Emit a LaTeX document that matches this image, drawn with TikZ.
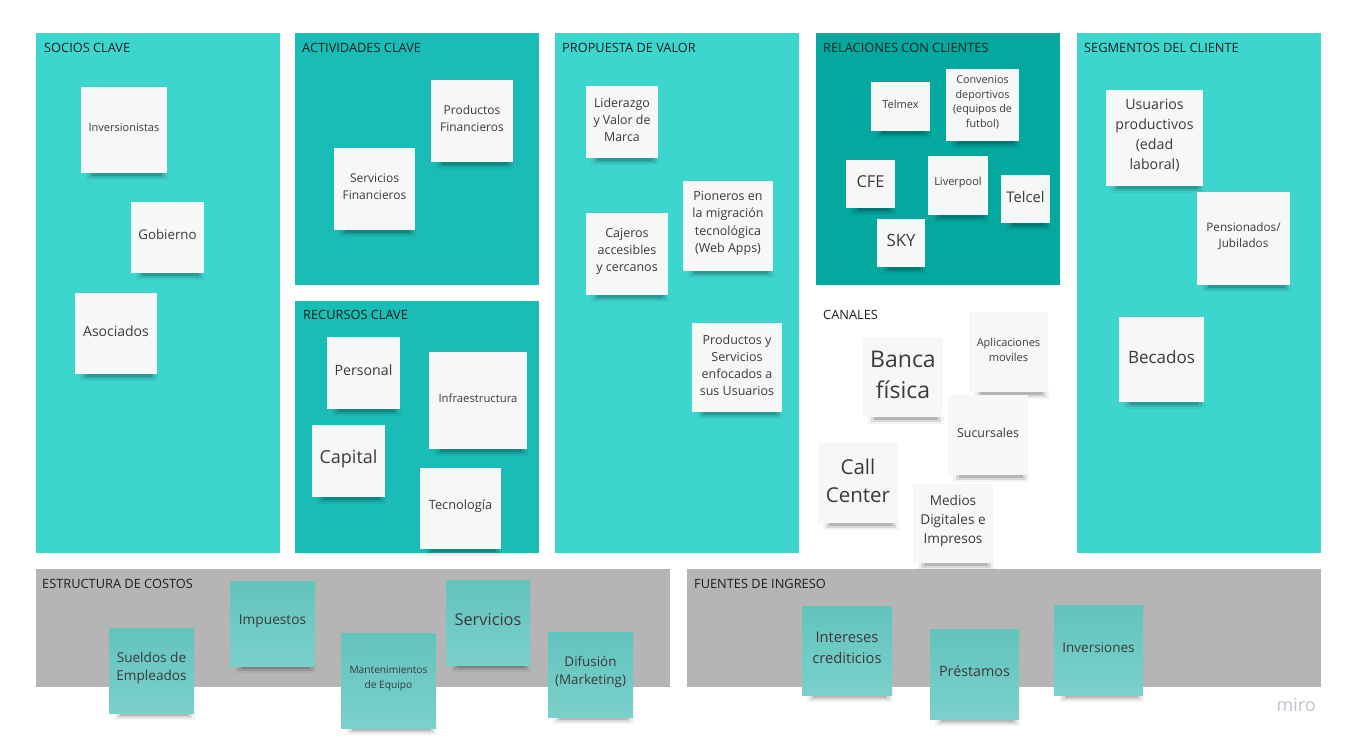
\documentclass[tikz,border=0pt]{standalone}
\usepackage{fontspec}
\setmainfont{Open Sans}
\definecolor{lightteal}{HTML}{3DD6CF}
\definecolor{midteal}{HTML}{1ABDB5}
\definecolor{darkteal}{HTML}{03A89F}
\definecolor{panelgray}{HTML}{B5B5B5}
\definecolor{notewhite}{HTML}{F6F8F8}
\definecolor{noteteallight}{HTML}{7BD0CB}
\definecolor{noteteadark}{HTML}{63C3BD}
\definecolor{txt}{HTML}{3A3A3A}
\definecolor{hdrtxt}{HTML}{1E1E1E}
\definecolor{mirogray}{HTML}{C2C2CE}
\tikzset{
  hdr/.style={anchor=base west, inner sep=0pt, text=hdrtxt, font={\fontsize{12.8}{15}\selectfont}},
  wst/.style={fill=notewhite, inner sep=0pt},
  tst/.style={top color=noteteadark, bottom color=noteteallight, inner sep=0pt},
  notetext/.style={text=txt, align=center, inner sep=0pt},
}
% name, x1, y1, x2, y2, size, leading, text, style
\newcommand\stk[9]{%
  \fill[black,opacity=.05] ({#2+5},{#5-2}) rectangle ({#4+1},{#5+7});
  \fill[black,opacity=.10] ({#2+8},{#5-2}) rectangle ({#4-2},{#5+5});
  \fill[black,opacity=.16] ({#2+11},{#5-1}) rectangle ({#4-5},{#5+3});
  \node[#9, minimum width={#4-#2}, minimum height={#5-#3}] (#1) at ({(#2+#4)/2},{(#3+#5)/2}) {};
  \node[notetext, font={\fontsize{#6}{#7}\selectfont}] (#1t) at ({(#2+#4)/2},{(#3+#5)/2-2.5}) {#8};
}
\begin{document}
\begin{tikzpicture}[x=1pt,y=-1pt]
\useasboundingbox (0,0) rectangle (1345,743);
\fill[white] (0,0) rectangle (1345,743);
% panels
\fill[lightteal] (36,33) rectangle (280,553);
\fill[midteal] (295,33) rectangle (539,285);
\fill[midteal] (295,301) rectangle (539,553);
\fill[lightteal] (555,33) rectangle (799,553);
\fill[darkteal] (816,33) rectangle (1060,285);
\fill[lightteal] (1077,33) rectangle (1321,553);
\fill[panelgray] (36,569) rectangle (670,687);
\fill[panelgray] (687,569) rectangle (1321,687);
% headers
\node[hdr] (hsoc) at (44,53) {SOCIOS CLAVE};
\node[hdr] (hact) at (302,53) {ACTIVIDADES CLAVE};
\node[hdr] (hrec) at (303,320) {RECURSOS CLAVE};
\node[hdr] (hpro) at (562,53) {PROPUESTA DE VALOR};
\node[hdr] (hrel) at (823,53) {RELACIONES CON CLIENTES};
\node[hdr] (hcan) at (823,320) {CANALES};
\node[hdr] (hseg) at (1084,53) {SEGMENTOS DEL CLIENTE};
\node[hdr] (hcos) at (42,588) {ESTRUCTURA DE COSTOS};
\node[hdr] (hfue) at (694,588) {FUENTES DE INGRESO};
% socios
\stk{inv}{81}{87}{167}{173}{11}{15}{Inversionistas}{wst}
\stk{gob}{131}{202}{204}{273}{13.3}{18}{Gobierno}{wst}
\stk{aso}{75}{293}{157}{374}{14}{19}{Asociados}{wst}
% actividades
\stk{prodfin}{431}{80}{513}{162}{12}{17}{Productos\\Financieros}{wst}
\stk{servfin}{334}{148}{415}{230}{12}{17}{Servicios\\Financieros}{wst}
% recursos
\stk{pers}{327}{337}{400}{409}{14.2}{19}{Personal}{wst}
\stk{infra}{429}{352}{527}{449}{11.3}{15}{Infraestructura}{wst}
\stk{cap}{312}{425}{385}{497}{18}{24}{Capital}{wst}
\stk{tec}{420}{468}{501}{549}{12.8}{17}{Tecnología}{wst}
% propuesta
\stk{lid}{586}{86}{658}{158}{12.4}{17}{Liderazgo\\y Valor de\\Marca}{wst}
\stk{caj}{586}{213}{668}{295}{12.5}{17}{Cajeros\\accesibles\\y cercanos}{wst}
\stk{pio}{683}{181}{773}{271}{12.5}{17.5}{Pioneros en\\la migración\\tecnológica\\(Web Apps)}{wst}
\stk{pys}{692}{323}{782}{412}{12.5}{17}{Productos y\\Servicios\\enfocados a\\sus Usuarios}{wst}
% relaciones
\stk{telmex}{871}{82}{930}{131}{11}{15}{Telmex}{wst}
\stk{conv}{946}{69}{1019}{141}{10.8}{14.7}{Convenios\\deportivos\\(equipos de\\futbol)}{wst}
\stk{cfe}{846}{160}{895}{208}{16.4}{20}{CFE}{wst}
\stk{liv}{928}{156}{988}{215}{11}{15}{Liverpool}{wst}
\stk{telcel}{1001}{175}{1050}{223}{14.7}{19}{Telcel}{wst}
\stk{sky}{877}{219}{925}{267}{16.8}{20}{SKY}{wst}
% canales
\stk{banca}{863}{337}{943}{417}{23}{31}{Banca\\física}{wst}
\stk{apps}{969}{312}{1048}{392}{11}{15}{Aplicaciones\\moviles}{wst}
\stk{suc}{948}{395}{1028}{475}{12.4}{17}{Sucursales}{wst}
\stk{call}{818}{443}{898}{523}{20.5}{28}{Call\\Center}{wst}
\stk{med}{913}{484}{993}{563}{13.6}{19}{Medios\\Digitales e\\Impresos}{wst}
% segmentos
\stk{usu}{1106}{90}{1203}{186}{14.2}{20}{Usuarios\\productivos\\(edad\\laboral)}{wst}
\stk{pen}{1197}{192}{1290}{285}{11.7}{16}{Pensionados/\\Jubilados}{wst}
\stk{bec}{1119}{317}{1204}{402}{17}{22}{Becados}{wst}
% costos
\stk{sue}{109}{628}{194}{713}{13.6}{18}{Sueldos de\\Empleados}{tst}
\stk{imp}{230}{581}{315}{666}{13.7}{18}{Impuestos}{tst}
\stk{man}{341}{633}{436}{728}{10.2}{15}{Mantenimientos\\de Equipo}{tst}
\stk{ser}{446}{580}{530}{665}{16.4}{20}{Servicios}{tst}
\stk{dif}{548}{632}{633}{717}{13.4}{18}{Difusión\\(Marketing)}{tst}
% ingresos
\stk{int}{802}{606}{892}{695}{14.7}{21}{Intereses\\crediticios}{tst}
\stk{pre}{930}{629}{1019}{719}{14.3}{19}{Préstamos}{tst}
\stk{invs}{1054}{605}{1143}{695}{13.5}{18}{Inversiones}{tst}
% logo
\node[anchor=base east, inner sep=0pt, text=mirogray, font={\fontsize{18}{20}\selectfont}] (miro) at (1316,711) {miro};
\end{tikzpicture}
\end{document}
